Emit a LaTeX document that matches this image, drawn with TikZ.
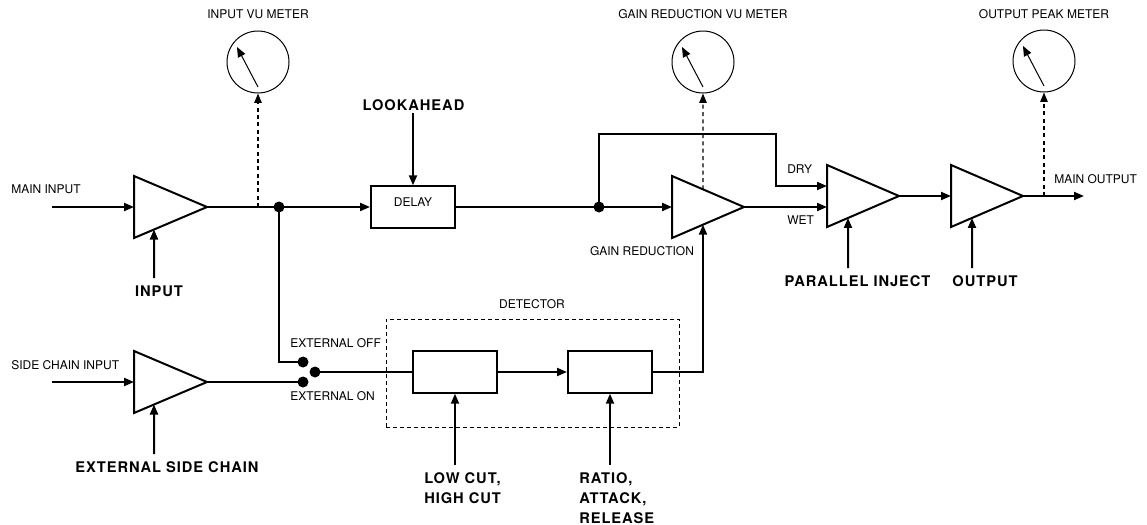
\documentclass[tikz,border=0pt]{standalone}
\usepackage{fontspec}
\setmainfont{TeX Gyre Heros}
\newfontfamily\spacedfont[LetterSpace=6.5]{TeX Gyre Heros}
\usetikzlibrary{arrows.meta,calc}
\newcommand\ampblock[4]{%
  \coordinate (#1-tl) at (#2,#3-31);
  \coordinate (#1-bl) at (#2,#3+31);
  \coordinate (#1-out) at (#2+#4,#3);
  \coordinate (#1-in) at (#2,#3);
  \draw[amp] (#1-tl) -- (#1-out) -- (#1-bl) -- cycle;}
\begin{document}
\begin{tikzpicture}[x=0.75pt,y=-0.75pt,
  wire/.style={line width=1.5pt},
  sig/.style={wire,-{Triangle[length=7.5pt,width=6pt]}},
  amp/.style={line width=1.5pt,line join=miter},
  meter/.style={draw,circle,line width=0.75pt,minimum size=46.5pt,inner sep=0pt},
  needle/.style={line width=0.75pt,-{Triangle[length=7.5pt,width=6pt]}},
  tap/.style={line width=1.1pt,dash pattern=on 3pt off 2.5pt,-{Triangle[length=7pt,width=5.5pt]}},
  lab/.style={font=\fontsize{9}{11}\selectfont,inner sep=0pt},
  ctl/.style={font=\spacedfont\bfseries\fontsize{11}{15}\selectfont,inner sep=0pt,align=left},
  dot/.style={circle,fill,inner sep=0pt,minimum size=8.25pt},
  blk/.style={draw,line width=1.5pt,inner sep=0pt,minimum width=63pt,minimum height=31pt},
  detbox/.style={draw,line width=0.75pt,dash pattern=on 3pt off 2.25pt,inner sep=0pt,minimum width=219.75pt,minimum height=81pt}
]
\useasboundingbox[fill=white] (0,0) rectangle (1147,525);

% amplifiers
\ampblock{A1}{134}{207}{73}
\ampblock{A5}{134}{382}{73}
\ampblock{A2}{672}{207}{72}
\ampblock{A3}{827}{196}{72}
\ampblock{A4}{951}{196}{72}
\coordinate (A1-c) at ($(A1-bl)!20/73!(A1-out)$);
\coordinate (A5-c) at ($(A5-bl)!20/73!(A5-out)$);
\coordinate (A2-c) at ($(A2-bl)!31/72!(A2-out)$);
\coordinate (A2-t) at ($(A2-tl)!31/72!(A2-out)$);
\coordinate (A3-c) at ($(A3-bl)!21/72!(A3-out)$);
\coordinate (A4-c) at ($(A4-bl)!21/72!(A4-out)$);
\coordinate (A3-dry) at (827,186);
\coordinate (A3-wet) at (827,207);

% meters
\node[meter] (m1) at (258,62) {};
\node[meter] (m2) at (703,62) {};
\node[meter] (m3) at (1044,61) {};
\foreach \m in {m1,m2,m3}{
  \draw[needle] ($(\m.center)+(0,25)$) -- ($(\m.center)+(-21,-15)$);
}
\node[lab] (m1lab) at (258,14) {INPUT VU METER};
\node[lab] (m2lab) at (703,14) {GAIN REDUCTION VU METER};
\node[lab] (m3lab) at (1044,14) {OUTPUT PEAK METER};

% main input
\coordinate (mainin) at (52,207);
\node[lab,anchor=west] (mainlab) at (11,189) {MAIN INPUT};
\draw[sig] (mainin) -- (A1-in);
\node[ctl] (inputlab) at (159,291) {INPUT};
\coordinate (A1-cs) at (154,278);
\draw[sig] (A1-cs) -- (A1-c);

% junction and delay
\node[dot] (j1) at (279,207) {};
\node[blk] (delay) at (413,207) {};
\node[lab] (delaylab) at ($(delay.center)+(0,-5)$) {DELAY};
\draw[wire] (A1-out) -- (j1.center);
\draw[sig] (j1.center) -- (delay.west);
\coordinate (tap1) at (258,207);
\draw[tap] (tap1) -- (m1.south);
\node[ctl] (lookahead) at (413.5,105) {LOOKAHEAD};
\coordinate (lookstart) at (413,113);
\draw[sig] (lookstart) -- (delay.north);

% gain reduction stage
\node[dot] (j2) at (599,207) {};
\draw[wire] (delay.east) -- (j2.center);
\draw[sig] (j2.center) -- (A2-in);
\coordinate (drycorner) at (776,134);
\draw[sig] (j2.center) |- (drycorner) |- (A3-dry);
\draw[sig] (A2-out) -- (A3-wet);
\draw[tap] (A2-t) -- (m2.south);
\node[lab] (grlab) at (642,251) {GAIN REDUCTION};
\node[lab,anchor=west] (drylab) at (787,169) {DRY};
\node[lab,anchor=west] (wetlab) at (787,220) {WET};

% parallel and output
\draw[sig] (A3-out) -- (A4-in);
\coordinate (A3-cs) at (848,268);
\draw[sig] (A3-cs) -- (A3-c);
\node[ctl] (parlab) at (857.5,281) {PARALLEL INJECT};
\coordinate (A4-cs) at (972,268);
\draw[sig] (A4-cs) -- (A4-c);
\node[ctl] (outlab) at (985,281) {OUTPUT};
\coordinate (mainout) at (1084,196);
\draw[sig] (A4-out) -- (mainout);
\node[lab,anchor=west] (mainoutlab) at (1054,179) {MAIN OUTPUT};
\coordinate (tap3) at (1044,196);
\draw[tap] (tap3) -- (m3.south);

% side chain
\coordinate (sidein) at (52,382);
\node[lab,anchor=west] (sidelab) at (11,365) {SIDE CHAIN INPUT};
\draw[sig] (sidein) -- (A5-in);
\coordinate (A5-cs) at (154,454);
\draw[sig] (A5-cs) -- (A5-c);
\node[ctl] (extlab) at (167,467) {EXTERNAL SIDE CHAIN};

% switch
\node[dot] (swoff) at (303,362) {};
\node[dot] (swon) at (303,382) {};
\node[dot] (swc) at (315,372) {};
\draw[wire] (j1.center) |- (swoff.center);
\draw[wire] (A5-out) -- (swon.center);
\node[lab,anchor=west] (offlab) at (290,343) {EXTERNAL OFF};
\node[lab,anchor=west] (onlab) at (290,396) {EXTERNAL ON};

% detector
\node[detbox] (det) at (532.5,373) {};
\node[lab] (detlab) at (532,304) {DETECTOR};
\node[blk] (box1) at (455,372) {};
\node[blk] (box2) at (610,372) {};
\draw[wire] (swc.center) -- (box1.west);
\draw[sig] (box1.east) -- (box2.west);
\draw[sig] (box2.east) -| (A2-c);
\coordinate (box1cs) at (455,465);
\coordinate (box2cs) at (610,465);
\draw[sig] (box1cs) -- (box1.south);
\draw[sig] (box2cs) -- (box2.south);
\node[ctl,anchor=north west] (lowlab) at (424,472.5) {LOW CUT,\\HIGH CUT};
\node[ctl,anchor=north west] (ratiolab) at (579,472.5) {RATIO,\\ATTACK,\\RELEASE};
\end{tikzpicture}
\end{document}
